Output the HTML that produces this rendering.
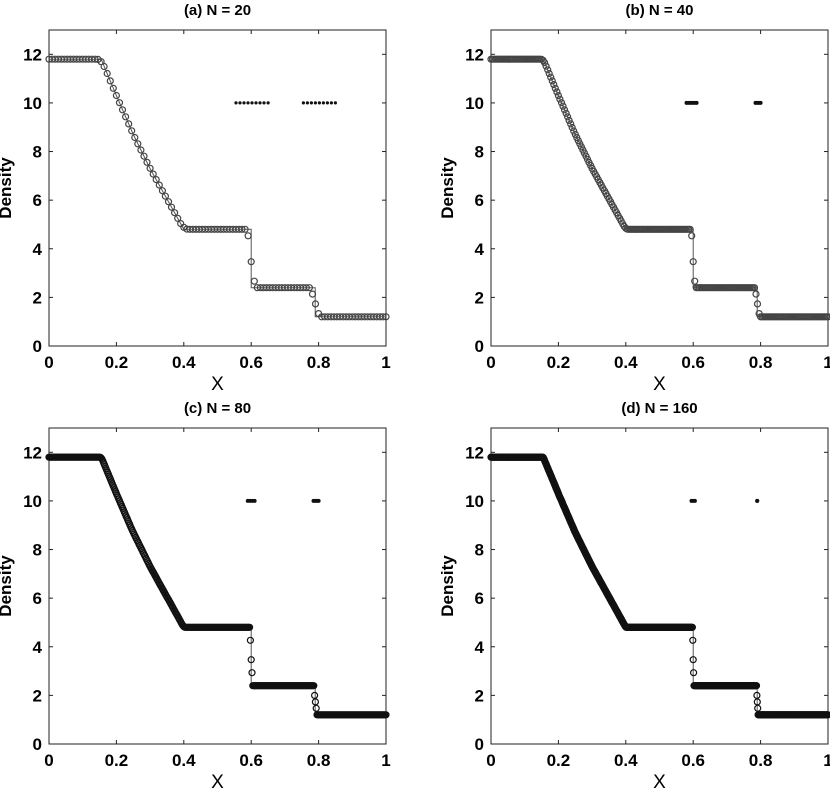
<!DOCTYPE html>
<html><head><meta charset="utf-8"><style>
html,body{margin:0;padding:0;background:#fff;}
svg{display:block;font-family:"Liberation Sans",Arial,sans-serif;font-weight:bold;}
</style></head><body>
<svg id="fig" width="830" height="793" viewBox="0 0 830 793"></svg>
<script>
// exact solution profile (Riemann problem)
const exactX = [0, 0.155, 0.2, 0.25, 0.3, 0.35, 0.4, 0.6, 0.6, 0.79, 0.79, 1];
const exactRho = [11.8, 11.8, 10.3, 8.7, 7.3, 6.05, 4.8, 4.8, 2.4, 2.4, 1.2, 1.2];
const panelTitles = ["(a) N = 20", "(b) N = 40", "(c) N = 80", "(d) N = 160"];
const panelN = [20, 40, 80, 160];
const markerCounts = [110, 220, 420, 820];
const smearWidths = [0.012, 0.006, 0.004, 0.002];
const refineStart = [[0.555, 0.755], [0.58, 0.785], [0.59, 0.785], [0.595, 0.79]];
const refineEnd = [[0.65, 0.85], [0.61, 0.80], [0.61, 0.80], [0.605, 0.79]];
const refineLevel = 10;
const xTicks = [0, 0.2, 0.4, 0.6, 0.8, 1];
const xTickLabels = ["0", "0.2", "0.4", "0.6", "0.8", "1"];
const yTicks = [0, 2, 4, 6, 8, 10, 12];
const yTickLabels = ["0", "2", "4", "6", "8", "10", "12"];

const NS = "http://www.w3.org/2000/svg";
const svg = document.getElementById("fig");
const boxes = [
  {l:49, r:386, t:30, b:346},
  {l:491, r:828, t:30, b:346},
  {l:49, r:386, t:428, b:744},
  {l:491, r:828, t:428, b:744}
];
function mk(tag, attrs, parent){
  const e = document.createElementNS(NS, tag);
  for (const k in attrs) e.setAttribute(k, attrs[k]);
  (parent||svg).appendChild(e);
  return e;
}
function exact(x){
  for (let i = exactX.length - 1; i >= 0; i--) {
    if (x >= exactX[i]) {
      if (i === exactX.length - 1) return exactRho[i];
      const x0 = exactX[i], x1 = exactX[i+1];
      if (x1 === x0) return exactRho[i+1];
      return exactRho[i] + (exactRho[i+1]-exactRho[i])*(x-x0)/(x1-x0);
    }
  }
  return exactRho[0];
}
boxes.forEach((bx, p) => {
  const g = mk("g", {});
  
  
  const xs = v => bx.l + v*(bx.r-bx.l);
  const ys = v => bx.b - v/13*(bx.b-bx.t);
  const rect = mk("rect", {x:bx.l, y:bx.t, width:bx.r-bx.l, height:bx.b-bx.t, fill:"none", stroke:"#222", "stroke-width":1}, g);
  
  
  xTicks.forEach((t, i) => {
    const x = xs(t);
    mk("line", {x1:x, x2:x, y1:bx.b, y2:bx.b-4, stroke:"#222"}, g);
    mk("line", {x1:x, x2:x, y1:bx.t, y2:bx.t+4, stroke:"#222"}, g);
    const tx = mk("text", {x:x, y:bx.b+22, "text-anchor":"middle", "font-size":17}, g);
    tx.textContent = xTickLabels[i];
    
    
  });
  yTicks.forEach((t, i) => {
    const y = ys(t);
    mk("line", {x1:bx.l, x2:bx.l+4, y1:y, y2:y, stroke:"#222"}, g);
    mk("line", {x1:bx.r, x2:bx.r-4, y1:y, y2:y, stroke:"#222"}, g);
    const tx = mk("text", {x:bx.l-7, y:y+6, "text-anchor":"end", "font-size":17}, g);
    tx.textContent = yTickLabels[i];
    
    
  });
  const title = mk("text", {x:(bx.l+bx.r)/2, y:bx.t-15, "text-anchor":"middle", "font-size":15}, g);
  title.textContent = panelTitles[p];
  
  
  const xl = mk("text", {x:(bx.l+bx.r)/2, y:bx.b+44, "text-anchor":"middle", "font-size":19, "font-weight":"normal"}, g);
  xl.textContent = "X";
  
  
  const cy = (bx.t+bx.b)/2, cx = bx.l-38;
  const yl = mk("text", {x:cx, y:cy, "text-anchor":"middle", "font-size":17, transform:`rotate(-90 ${cx} ${cy})`}, g);
  yl.textContent = "Density";
  
  
  let d = "";
  exactX.forEach((x, i) => { d += (i ? "L" : "M") + xs(x).toFixed(1) + " " + ys(exactRho[i]).toFixed(1); });
  const line = mk("path", {d:d, fill:"none", stroke:"#555", "stroke-width":1}, g);
  
  
  const cnt = markerCounts[p], w = smearWidths[p];
  const mg = mk("g", {fill:"none", stroke: p < 2 ? "#444" : "#111", "stroke-width":1.2}, g);
  
  
  for (let i = 0; i <= cnt; i++) {
    const x = i/cnt;
    let s = 0;
    for (let k = -4; k <= 4; k++) s += exact(Math.min(1, Math.max(0, x + k*w/4)));
    const v = s/9;
    const c = mk("circle", {cx:xs(x).toFixed(1), cy:ys(v).toFixed(1), r:3}, mg);
    
    
  }
  const sg = mk("g", {fill:"#111"}, g);
  
  
  refineStart[p].forEach((a, j) => {
    const b = refineEnd[p][j];
    const n = Math.max(1, Math.round((b-a)/(p === 0 ? 0.0125 : 0.006)));
    for (let k = 0; k <= n; k++) {
      const x = a + (b-a)*k/n;
      const c = mk("circle", {cx:xs(x).toFixed(1), cy:ys(refineLevel).toFixed(1), r: p === 0 ? 1.6 : 2}, sg);
      
      
    }
  });
});
</script>
</body></html>
